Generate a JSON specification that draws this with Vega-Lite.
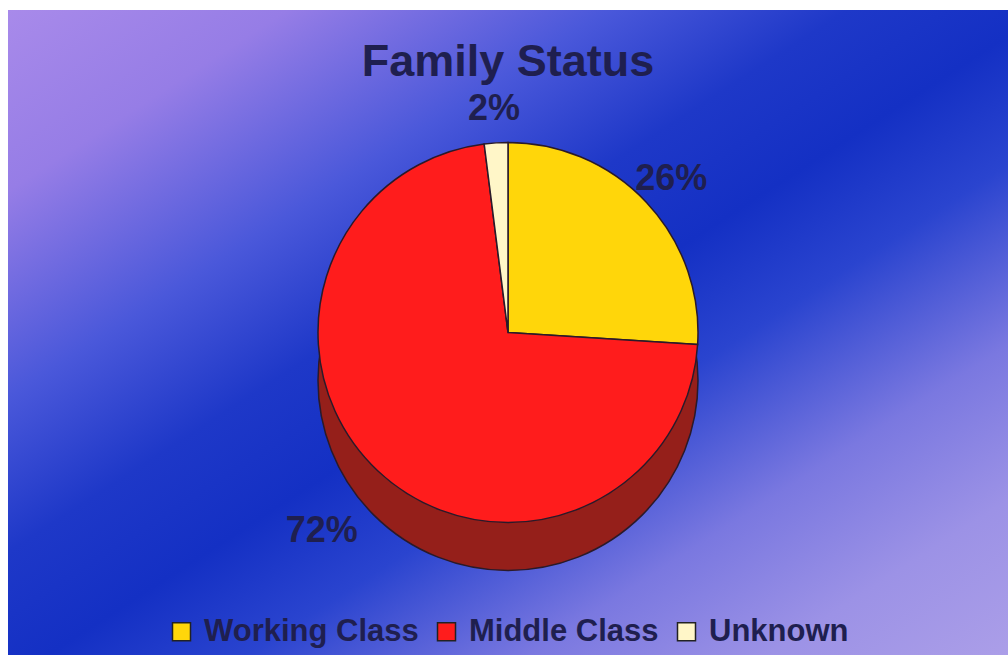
{
  "$schema": "https://vega.github.io/schema/vega-lite/v6.json",
  "width": 1000,
  "height": 645,
  "autosize": {"type": "none"},
  "padding": {"left": 8, "top": 10, "right": 0, "bottom": 0},
  "background": "#ffffff",
  "config": {"view": {"stroke": null}},
  "title": {
    "text": "Family Status",
    "font": "Liberation Sans",
    "fontWeight": "bold",
    "fontSize": 45,
    "color": "#1f1f4f",
    "anchor": "middle",
    "offset": -75
  },
  "data": {
    "values": [
      {"cls": "Working Class", "value": 26, "label": "26%", "order": 1},
      {"cls": "Middle Class", "value": 72, "label": "72%", "order": 2},
      {"cls": "Unknown", "value": 2, "label": "2%", "order": 3}
    ]
  },
  "layer": [
    {
      "data": {"values": [{}]},
      "mark": {
        "type": "rect",
        "color": {
          "gradient": "linear",
          "x1": 0, "y1": 0, "x2": 1, "y2": 1,
          "stops": [
            {"offset": 0, "color": "#a88aea"},
            {"offset": 0.14, "color": "#967de6"},
            {"offset": 0.3, "color": "#4a58da"},
            {"offset": 0.42, "color": "#1e38c8"},
            {"offset": 0.52, "color": "#1430c4"},
            {"offset": 0.62, "color": "#2a44cf"},
            {"offset": 0.76, "color": "#7a78e0"},
            {"offset": 0.88, "color": "#9c92e6"},
            {"offset": 1, "color": "#ab9ee8"}
          ]
        }
      },
      "encoding": {}
    },
    {
      "transform": [{"aggregate": [{"op": "sum", "field": "value", "as": "total"}]}],
      "mark": {
        "type": "arc",
        "theta": 0,
        "theta2": 6.2832,
        "radius": 190,
        "yOffset": 48,
        "fill": "#951f1a",
        "stroke": "#2a1a2a",
        "strokeWidth": 1.5
      },
      "encoding": {}
    },
    {
      "mark": {"type": "arc", "radius": 190, "stroke": "#2a1a2a", "strokeWidth": 1.5},
      "encoding": {
        "theta": {"field": "value", "type": "quantitative", "stack": true},
        "order": {"field": "order"},
        "color": {
          "field": "cls",
          "type": "nominal",
          "sort": ["Working Class", "Middle Class", "Unknown"],
          "scale": {
            "domain": ["Working Class", "Middle Class", "Unknown"],
            "range": ["#ffd60a", "#ff1c1c", "#fff6c8"]
          },
          "legend": {
            "title": null,
            "orient": "none",
            "direction": "horizontal",
            "legendX": 158,
            "legendY": 606,
            "symbolType": "square",
            "symbolSize": 324,
            "symbolStrokeColor": "#222222",
            "symbolStrokeWidth": 1.5,
            "symbolOpacity": 1,
            "labelFont": "Liberation Sans",
            "labelFontWeight": "bold",
            "labelFontSize": 31,
            "labelColor": "#1f1f4f",
            "labelOffset": 7,
            "columnPadding": 12,
            "labelLimit": 400
          }
        }
      }
    },
    {
      "mark": {
        "type": "text",
        "radius": 224,
        "font": "Liberation Sans",
        "fontWeight": "bold",
        "fontSize": 36,
        "fill": "#1f1f4f"
      },
      "encoding": {
        "theta": {"field": "value", "type": "quantitative", "stack": true},
        "order": {"field": "order"},
        "text": {"field": "label"},
        "opacity": {"condition": {"test": "datum.cls === 'Middle Class'", "value": 0}, "value": 1}
      }
    },
    {
      "mark": {
        "type": "text",
        "radius": 272,
        "font": "Liberation Sans",
        "fontWeight": "bold",
        "fontSize": 36,
        "fill": "#1f1f4f"
      },
      "encoding": {
        "theta": {"field": "value", "type": "quantitative", "stack": true},
        "order": {"field": "order"},
        "text": {"field": "label"},
        "opacity": {"condition": {"test": "datum.cls === 'Middle Class'", "value": 1}, "value": 0}
      }
    }
  ]
}
